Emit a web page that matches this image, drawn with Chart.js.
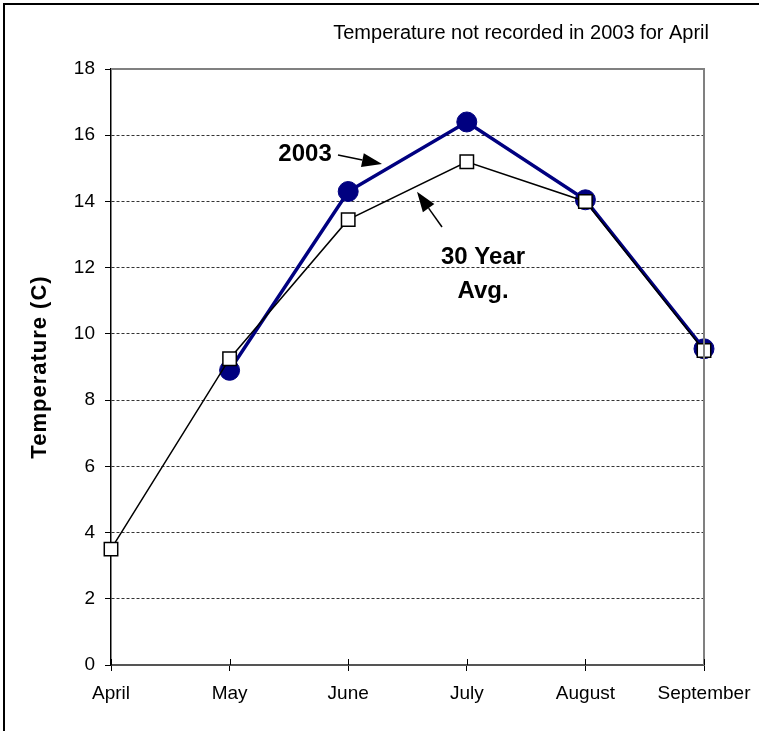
<!DOCTYPE html>
<html>
<head>
<meta charset="utf-8">
<script src="https://cdn.jsdelivr.net/npm/chart.js@4/dist/chart.umd.min.js"></script>
<style>
  html, body { margin: 0; padding: 0; background: #fff; }
  #wrap { position: relative; width: 759px; height: 731px; }
  #frame { position: absolute; left: 3px; top: 3px; right: -10px; bottom: -10px;
           border-left: 2px solid #000; border-top: 2px solid #000; pointer-events: none; }
  canvas { position: absolute; left: 0; top: 0; }
</style>
</head>
<body>
<div id="wrap">
  <canvas id="c" width="759" height="731"></canvas>
  <div id="frame"></div>
</div>
<script>
// Monthly mean temperatures (°C)
const months = ['April', 'May', 'June', 'July', 'August', 'September'];
const avg30 = [3.5, 9.25, 13.45, 15.2, 14.0, 9.5];
const temps2003 = [null, 8.9, 14.3, 16.4, 14.05, 9.55];
const yTicks = [0, 2, 4, 6, 8, 10, 12, 14, 16, 18];

const titleText = 'Temperature not recorded in 2003 for April';
const yTitle = 'Temperature (C)';
const FONT = '"Liberation Sans", Arial, sans-serif';

// Callout labels and arrows, placed in axis units (category index, °C)
const callouts = [
  { text: ['2003'], x: 1.636, y: 15.43, arrow: { from: [1.914, 15.40], to: [2.285, 15.13] } },
  { text: ['30 Year', 'Avg.'], x: 3.137, y: 12.32, arrow: { from: [2.791, 13.23], to: [2.58, 14.29] } }
];

const decorations = {
  id: 'decorations',
  afterDraw(chart) {
    const { ctx, chartArea: a, scales: { x } } = chart;
    ctx.save();
    // top and right frame of the plot area
    ctx.strokeStyle = '#808080';
    ctx.lineWidth = 2;
    ctx.beginPath();
    ctx.moveTo(a.left, a.top);
    ctx.lineTo(a.right, a.top);
    ctx.lineTo(a.right, a.bottom);
    ctx.stroke();
    // inner half of the category tick marks
    ctx.strokeStyle = '#000';
    ctx.lineWidth = 1;
    x.ticks.forEach((t, i) => {
      const px = Math.round(x.getPixelForTick(i)) + 0.5;
      ctx.beginPath();
      ctx.moveTo(px, a.bottom - 6);
      ctx.lineTo(px, a.bottom);
      ctx.stroke();
    });
    // note above the plot
    ctx.fillStyle = '#000';
    ctx.font = '20px ' + FONT;
    ctx.textAlign = 'right';
    ctx.textBaseline = 'middle';
    ctx.fillText(titleText, a.right + 5, 33);
    // value axis title
    ctx.letterSpacing = '1px';
    ctx.font = 'bold 22px ' + FONT;
    ctx.textAlign = 'center';
    ctx.translate(40, (a.top + a.bottom) / 2);
    ctx.rotate(-Math.PI / 2);
    ctx.fillText(yTitle, 0, 0);
    ctx.restore();
  },
  afterDatasetsDraw(chart) {
    const { ctx, scales: { x, y } } = chart;
    ctx.save();
    ctx.fillStyle = '#000';
    ctx.strokeStyle = '#000';
    ctx.font = 'bold 24px ' + FONT;
    ctx.textAlign = 'center';
    ctx.textBaseline = 'middle';
    callouts.forEach(c => {
      const cx = x.getPixelForValue(c.x);
      const cy = y.getPixelForValue(c.y);
      c.text.forEach((line, i) => ctx.fillText(line, cx, cy + i * 34));
      const x1 = x.getPixelForValue(c.arrow.from[0]), y1 = y.getPixelForValue(c.arrow.from[1]);
      const x2 = x.getPixelForValue(c.arrow.to[0]), y2 = y.getPixelForValue(c.arrow.to[1]);
      const ang = Math.atan2(y2 - y1, x2 - x1);
      const headLen = 20, headHalf = 7;
      const bx = x2 - headLen * Math.cos(ang), by = y2 - headLen * Math.sin(ang);
      ctx.lineWidth = 1.5;
      ctx.beginPath();
      ctx.moveTo(x1, y1);
      ctx.lineTo(bx, by);
      ctx.stroke();
      ctx.beginPath();
      ctx.moveTo(x2, y2);
      ctx.lineTo(bx + headHalf * Math.sin(ang), by - headHalf * Math.cos(ang));
      ctx.lineTo(bx - headHalf * Math.sin(ang), by + headHalf * Math.cos(ang));
      ctx.closePath();
      ctx.fill();
    });
    ctx.restore();
  }
};

new Chart(document.getElementById('c'), {
  type: 'line',
  data: {
    labels: months,
    datasets: [
      {
        label: '30 Year Avg.',
        data: avg30,
        borderColor: '#000',
        borderWidth: 1.5,
        pointStyle: 'rect',
        pointRadius: 9.5,
        pointBackgroundColor: '#fff',
        pointBorderColor: '#000',
        pointBorderWidth: 1.5,
        tension: 0
      },
      {
        label: '2003',
        data: temps2003,
        borderColor: '#000080',
        borderWidth: 3.5,
        pointStyle: 'circle',
        pointRadius: 10,
        pointBackgroundColor: '#000080',
        pointBorderColor: '#000080',
        pointBorderWidth: 1,
        tension: 0
      }
    ]
  },
  options: {
    responsive: false,
    animation: false,
    layout: { padding: { top: 69, right: 55, left: 0, bottom: 0 } },
    plugins: { legend: { display: false }, tooltip: { enabled: false } },
    scales: {
      x: {
        offset: false,
        grid: { drawOnChartArea: false, tickLength: 6, color: '#000' },
        border: { color: '#555', width: 2 },
        ticks: { color: '#000', font: { family: FONT, size: 19 }, padding: 11, maxRotation: 0, autoSkip: false },
        afterFit(scale) {
          scale.height = 66;
          scale.paddingLeft = 0;
          scale.paddingRight = 0;
        }
      },
      y: {
        min: 0,
        max: 18,
        afterBuildTicks(scale) { scale.ticks = yTicks.map(v => ({ value: v })); },
        grid: {
          tickLength: 6,
          color: ctx => (ctx.tick && ctx.tick.value === 18) ? 'rgba(0,0,0,0)' : '#333',
          tickColor: '#000',
          lineWidth: 1
        },
        border: { color: '#000', width: 1.5, dash: [3, 2] },
        ticks: { color: '#000', font: { family: FONT, size: 19 }, padding: 10 },
        afterFit(scale) {
          scale.width = 111;
          scale.paddingTop = 0;
          scale.paddingBottom = 0;
        }
      }
    }
  },
  plugins: [decorations]
});
</script>
</body>
</html>
